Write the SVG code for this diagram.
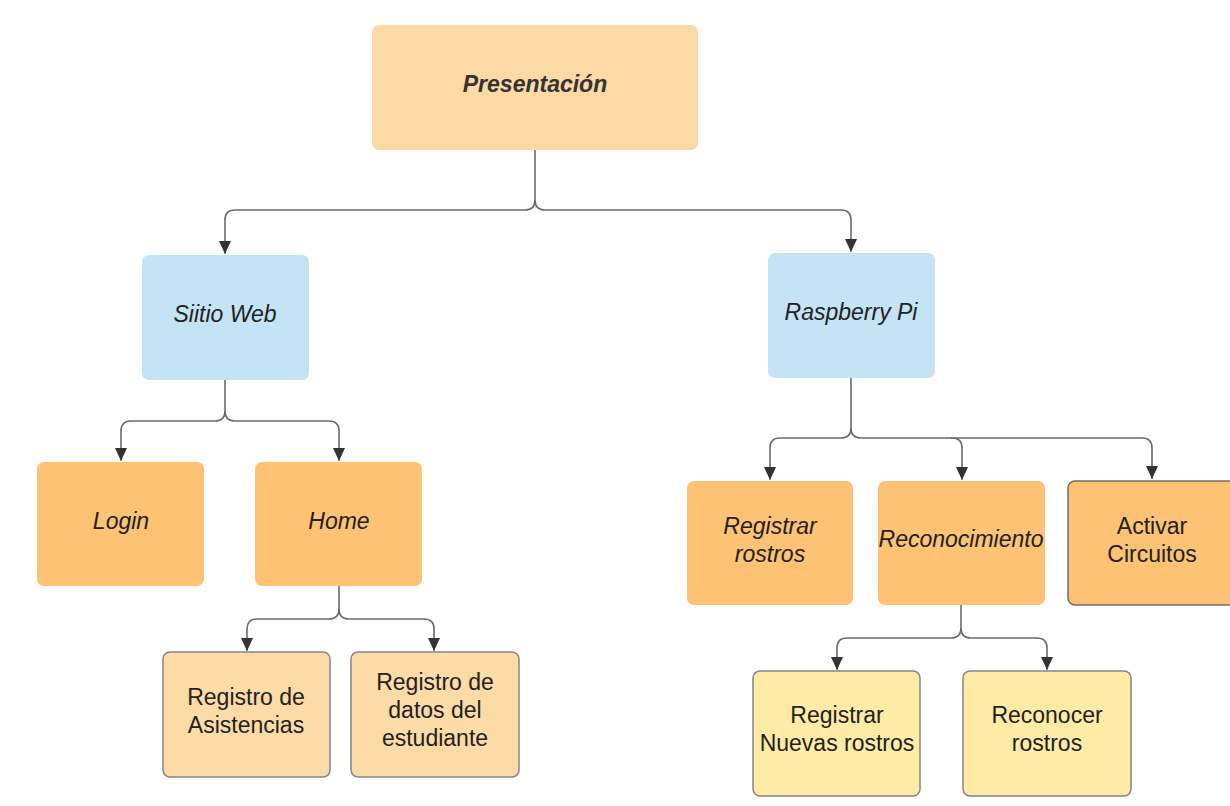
<svg xmlns="http://www.w3.org/2000/svg" width="1230" height="806" viewBox="0 0 1230 806">
<defs>
<style>
.t{font-family:"Liberation Sans",Arial,sans-serif;font-size:23px;fill:#222;text-anchor:middle}
.i{font-style:italic}
.b{font-weight:bold;fill:#333}
.c{fill:none;stroke:#6b6b6b;stroke-width:1.6}
.peach{fill:#FDD9A6}
.blue{fill:#C4E3F5}
.orange{fill:#FDC274}
.lpeach{fill:#FDDBA6;stroke:#858585;stroke-width:1.5}
.yellow{fill:#FFEBA6;stroke:#858585;stroke-width:1.5}
.ostroke{fill:#FDC274;stroke:#6e6e6e;stroke-width:1.5}
</style>
<marker id="ah" markerUnits="userSpaceOnUse" markerWidth="12" markerHeight="14" refX="13" refY="6" orient="auto">
<path d="M0,0 L13,6 L0,12 z" fill="#333"/>
</marker>
</defs>
<rect width="1230" height="806" fill="#fff"/>
<g id="connectors">
<path class="c" d="M535,150 V200 Q535,210 525,210 H235 Q225,210 225,220 V254" marker-end="url(#ah)"/>
<path class="c" d="M535,200 Q535,210 545,210 H841 Q851,210 851,220 V252" marker-end="url(#ah)"/>
<path class="c" d="M225,380 V411 Q225,421 215,421 H131 Q121,421 121,431 V461" marker-end="url(#ah)"/>
<path class="c" d="M225,411 Q225,421 235,421 H329 Q339,421 339,431 V461" marker-end="url(#ah)"/>
<path class="c" d="M851,378 V428 Q851,438 841,438 H780 Q770,438 770,448 V480" marker-end="url(#ah)"/>
<path class="c" d="M851,428 Q851,438 861,438 H952 Q962,438 962,448 V480" marker-end="url(#ah)"/>
<path class="c" d="M951,438 H1142 Q1152,438 1152,448 V479" marker-end="url(#ah)"/>
<path class="c" d="M339,586 V609 Q339,619 329,619 H257 Q247,619 247,629 V651" marker-end="url(#ah)"/>
<path class="c" d="M339,609 Q339,619 349,619 H424 Q434,619 434,629 V651" marker-end="url(#ah)"/>
<path class="c" d="M961,605 V628 Q961,638 951,638 H847 Q837,638 837,648 V670" marker-end="url(#ah)"/>
<path class="c" d="M961,628 Q961,638 971,638 H1037 Q1047,638 1047,648 V670" marker-end="url(#ah)"/>
</g>
<g id="presentacion">
<rect class="peach" x="372" y="25" width="326" height="125" rx="7"/>
<text class="t i b" x="535" y="92">Presentación</text>
</g>
<g id="sitio-web">
<rect class="blue" x="142" y="255" width="167" height="125" rx="7"/>
<text class="t i" x="225" y="322">Siitio Web</text>
</g>
<g id="raspberry-pi">
<rect class="blue" x="768" y="253" width="167" height="125" rx="7"/>
<text class="t i" x="851" y="320">Raspberry Pi</text>
</g>
<g id="login">
<rect class="orange" x="37" y="462" width="167" height="124" rx="7"/>
<text class="t i" x="121" y="529">Login</text>
</g>
<g id="home">
<rect class="orange" x="255" y="462" width="167" height="124" rx="7"/>
<text class="t i" x="339" y="529">Home</text>
</g>
<g id="registrar-rostros">
<rect class="orange" x="687" y="481" width="166" height="124" rx="7"/>
<text class="t i" x="770" y="534">Registrar</text>
<text class="t i" x="770" y="562">rostros</text>
</g>
<g id="reconocimiento">
<rect class="orange" x="878" y="481" width="167" height="124" rx="7"/>
<text class="t i" x="961" y="547">Reconocimiento</text>
</g>
<g id="activar-circuitos">
<rect class="ostroke" x="1068" y="481" width="168" height="124" rx="7"/>
<text class="t" x="1152" y="534">Activar</text>
<text class="t" x="1152" y="562">Circuitos</text>
</g>
<g id="registro-asistencias">
<rect class="lpeach" x="163" y="652" width="167" height="125" rx="7"/>
<text class="t" x="246" y="705">Registro de</text>
<text class="t" x="246" y="733">Asistencias</text>
</g>
<g id="registro-datos">
<rect class="lpeach" x="351" y="652" width="168" height="125" rx="7"/>
<text class="t" x="435" y="690">Registro de</text>
<text class="t" x="435" y="718">datos del</text>
<text class="t" x="435" y="746">estudiante</text>
</g>
<g id="registrar-nuevos">
<rect class="yellow" x="753" y="671" width="167" height="125" rx="7"/>
<text class="t" x="837" y="723">Registrar</text>
<text class="t" x="837" y="751">Nuevas rostros</text>
</g>
<g id="reconocer-rostros">
<rect class="yellow" x="963" y="671" width="168" height="125" rx="7"/>
<text class="t" x="1047" y="723">Reconocer</text>
<text class="t" x="1047" y="751">rostros</text>
</g>
</svg>
